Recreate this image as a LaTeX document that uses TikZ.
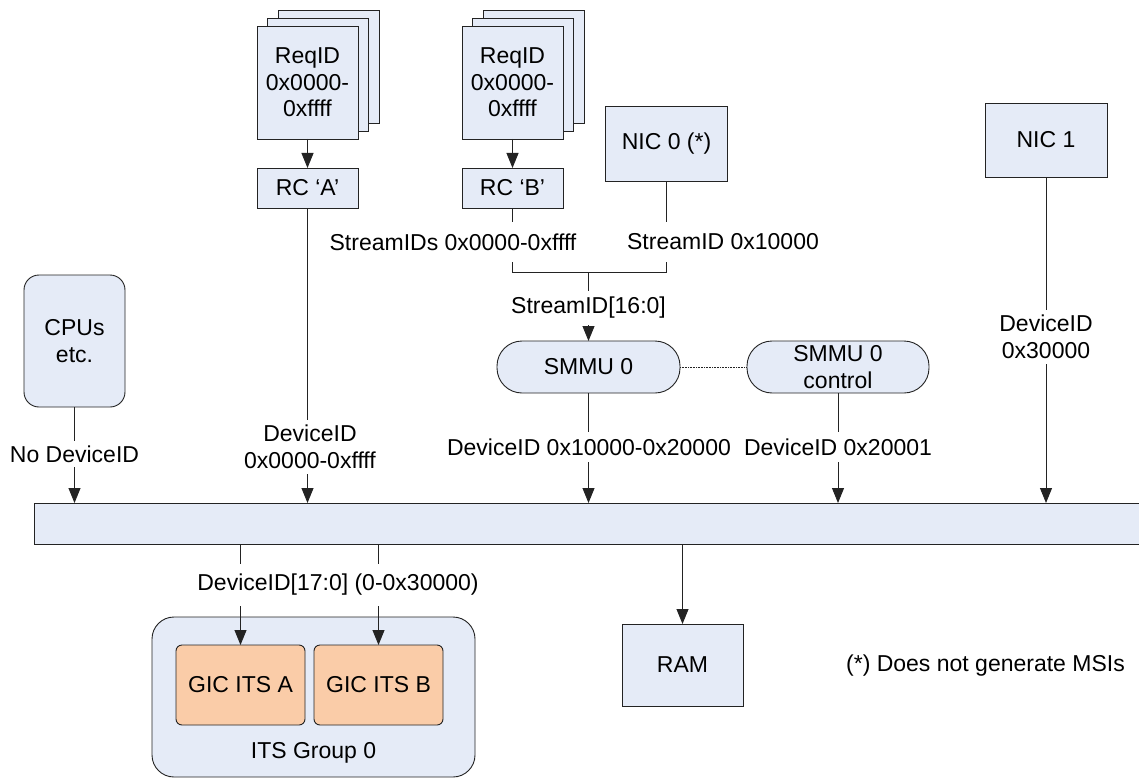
\documentclass[tikz,border=0pt]{standalone}
\usepackage{fontspec}
\setmainfont{Liberation Sans}
\usetikzlibrary{arrows.meta}
\definecolor{boxblue}{RGB}{229,235,247}
\definecolor{peach}{RGB}{250,204,168}
\definecolor{edge}{RGB}{35,35,35}
\tikzset{
  arr/.style={-{Triangle[width=12pt,length=15pt]}},
  blk/.style={draw=edge, fill=boxblue, line width=0.9pt, inner sep=0pt, outer sep=0pt, align=center},
  gic/.style={draw=edge, fill=peach, line width=0.9pt, inner sep=0pt, outer sep=0pt, align=center, rounded corners=6pt},
  lbl/.style={fill=white, inner xsep=1pt, align=center}
}
\begin{document}
\begin{tikzpicture}[x=1pt, y=-1pt, font=\fontsize{23}{26.5}\selectfont, line width=0.9pt, draw=edge]
\useasboundingbox (0,0) rectangle (1139,778);
\clip (0,0) rectangle (1139,778);

% ReqID stacks
\node[blk, minimum width=101pt, minimum height=113pt] (reqA3) at (328.5,66.5) {};
\node[blk, minimum width=101pt, minimum height=113pt] (reqA2) at (318,74.5) {};
\node[blk, minimum width=101pt, minimum height=113pt] (reqA) at (307.5,82.5) {ReqID\\0x0000-\\0xffff};
\node[blk, minimum width=101pt, minimum height=40pt] (rcA) at (307.5,188) {RC ‘A’};

\node[blk, minimum width=101pt, minimum height=113pt] (reqB3) at (533.5,66.5) {};
\node[blk, minimum width=101pt, minimum height=113pt] (reqB2) at (523,74.5) {};
\node[blk, minimum width=101pt, minimum height=113pt] (reqB) at (512.5,82.5) {ReqID\\0x0000-\\0xffff};
\node[blk, minimum width=101pt, minimum height=40pt] (rcB) at (512.5,188) {RC ‘B’};

\node[blk, minimum width=122pt, minimum height=75pt] (nic0) at (666.5,144) {NIC 0 (*)};
\node[blk, minimum width=122pt, minimum height=74pt] (nic1) at (1046,140) {NIC 1};

\node[blk, minimum width=101pt, minimum height=132pt, rounded corners=15pt] (cpu) at (74.5,341) {CPUs\\etc.};

\node[blk, minimum width=183pt, minimum height=52pt, rounded corners=25pt] (smmu) at (588.5,367) {SMMU 0};
\node[blk, minimum width=182pt, minimum height=52pt, rounded corners=25pt] (smmuc) at (838,367) {SMMU 0\\control};

\node[blk, minimum width=1126pt, minimum height=41pt] (bus) at (597,523.5) {};

\node[blk, minimum width=121pt, minimum height=82pt] (ram) at (682.5,665) {RAM};

\node[blk, minimum width=323pt, minimum height=160pt, rounded corners=22pt] (itsg) at (313.5,697) {};
\node[gic, minimum width=129pt, minimum height=80pt] (gicA) at (240.5,685) {GIC ITS A};
\node[gic, minimum width=129pt, minimum height=80pt] (gicB) at (378.5,685) {GIC ITS B};
\node[inner sep=0pt] (itsgl) at (313.5,753) {ITS Group 0};

% connectors
\coordinate (jl) at (512.5,272);
\coordinate (jr) at (666.5,272);
\coordinate (jm) at (588.5,272);

\draw[arr] (reqA.south) -- (rcA.north);
\draw[arr] (reqB.south) -- (rcB.north);
\draw (rcB.south) -- (jl) -- (jr) -- (nic0.south);
\draw[arr] (jm) -- (smmu.north);
\draw[densely dotted, line width=0.6pt] (smmu.east) -- (smmuc.west);

\draw[arr] (cpu.south) -- (cpu.south |- bus.north);
\draw[arr] (rcA.south) -- (rcA.south |- bus.north);
\draw[arr] (smmu.south) -- (smmu.south |- bus.north);
\draw[arr] (smmuc.south) -- (smmuc.south |- bus.north);
\draw[arr] (nic1.south) -- (nic1.south |- bus.north);

\draw[arr] (ram.north |- bus.south) -- (ram.north);
\draw[arr] (gicA.north |- bus.south) -- (gicA.north);
\draw[arr] (gicB.north |- bus.south) -- (gicB.north);

% labels
\node[lbl, inner ysep=12pt] (l1) at (453,242) {StreamIDs 0x0000-0xffff};
\node[lbl, inner ysep=12pt] (l2) at (723,242) {StreamID 0x10000};
\node[lbl, inner ysep=6pt] (l3) at (588.5,308) {StreamID[16:0]};
\node[lbl, inner ysep=5pt] (l4) at (74.5,454) {No DeviceID};
\node[lbl, inner ysep=5pt] (l5) at (310,447) {DeviceID\\0x0000-0xffff};
\node[lbl, inner ysep=7pt] (l6) at (589,447) {DeviceID 0x10000-0x20000};
\node[lbl, inner ysep=7pt] (l7) at (838,447) {DeviceID 0x20001};
\node[lbl, inner ysep=5pt] (l8) at (1046,337) {DeviceID\\0x30000};
\node[lbl, inner ysep=10pt] (l9) at (338,585) {DeviceID[17:0] (0-0x30000)};
\node[inner sep=0pt] (note) at (985.5,666) {(*) Does not generate MSIs};
\end{tikzpicture}
\end{document}
